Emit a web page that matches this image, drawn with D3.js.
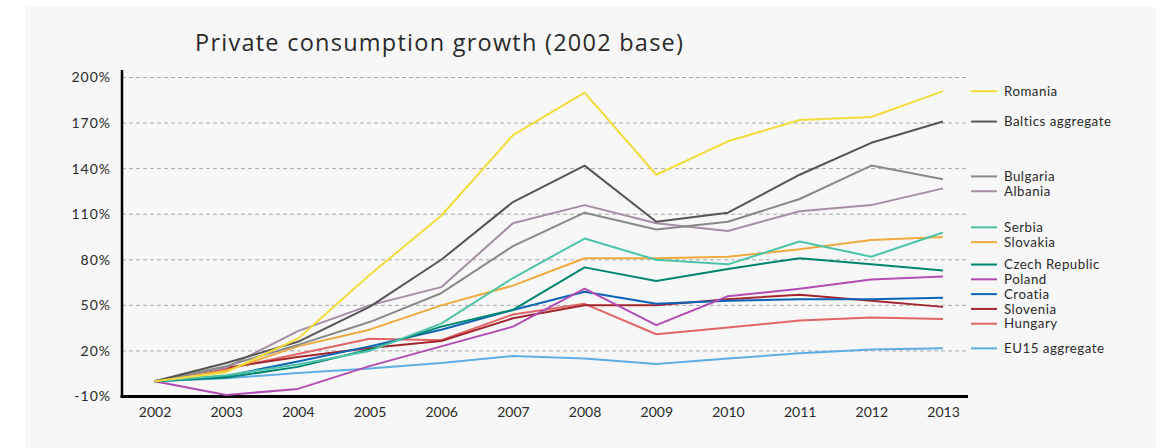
<!DOCTYPE html>
<html>
<head>
<meta charset="utf-8">
<script src="https://cdn.jsdelivr.net/npm/d3@7"></script>
<style>
  html, body { margin: 0; padding: 0; background: #ffffff; }
  svg { display: block; }
  text { font-family: Lato, "Noto Sans", sans-serif; fill: #2a2a2a; font-variant-ligatures: none; }
</style>
</head>
<body>
<svg id="chart" width="1171" height="448"></svg>
<script>
// Years on the x axis
const years = [2002, 2003, 2004, 2005, 2006, 2007, 2008, 2009, 2010, 2011, 2012, 2013];

// Cumulative private consumption growth since 2002, in percent
const romania  = [0, 6, 28, 70, 109, 162, 190, 136, 158, 172, 174, 191];
const baltics  = [0, 12, 26, 49, 80, 118, 142, 105, 111, 136, 157, 171];
const bulgaria = [0, 10, 24, 39, 58, 89, 111, 100, 105, 120, 142, 133];
const albania  = [0, 9, 33, 50, 62, 104, 116, 104, 99, 112, 116, 127];
const serbia   = [0, 4, 11, 20, 38, 68, 94, 80, 77, 92, 82, 98];
const slovakia = [0, 7, 23, 34, 50, 63, 81, 81, 82, 87, 93, 95];
const czech    = [0, 2.5, 9.5, 21, 36, 47, 75, 66, 74, 81, 77, 73];
const poland   = [0, -9, -5, 10, 23, 36, 61, 37, 56, 61, 67, 69];
const croatia  = [0, 3.5, 13, 23, 34, 47, 59, 51, 53, 54, 54, 55];
const slovenia = [0, 9, 16, 22, 26.5, 41.5, 50, 50, 54, 57, 53, 49];
const hungary  = [0, 8, 18, 28, 27, 44, 51, 31, 35.5, 40, 42, 41];
const eu15     = [0, 2, 5.5, 8.5, 12, 16.7, 15, 11.4, 15, 18.4, 21, 21.7];

const seriesNames = ["Romania", "Baltics aggregate", "Bulgaria", "Albania", "Serbia", "Slovakia",
  "Czech Republic", "Poland", "Croatia", "Slovenia", "Hungary", "EU15 aggregate"];
const seriesValues = [romania, baltics, bulgaria, albania, serbia, slovakia,
  czech, poland, croatia, slovenia, hungary, eu15];
const seriesColors = ["#f2dc3a", "#555555", "#898989", "#a38ea3", "#4dc4a9", "#f0a93c",
  "#00866f", "#b24db4", "#0b64b6", "#a3262f", "#e26565", "#5caee4"];

// Y axis tick values and their labels
const yTicks = [-10, 20, 50, 80, 110, 140, 170, 200];
const yTickLabels = ["-10%", "20%", "50%", "80%", "110%", "140%", "170%", "200%"];

const titleText = "Private consumption growth (2002 base)";

const svg = d3.select("#chart");

// Light panel behind the chart
svg.append("rect")
  .attr("x", 25).attr("y", 7)
  .attr("width", 1131).attr("height", 441)
  .attr("fill", "#f7f7f7");

const plot = { left: 122, right: 968, top: 77.5, bottom: 396.5 };

const x = d3.scalePoint()
  .domain(years)
  .range([154.5, 943]);

const y = d3.scaleLinear()
  .domain([-10, 200])
  .range([plot.bottom, plot.top]);

// Title
svg.append("text")
  .attr("x", 195).attr("y", 51)
  .attr("font-size", 23.5)
  .attr("fill", "#222")
  .style("font-family", "'Open Sans', Lato, sans-serif")
  .attr("textLength", 488)
  .attr("lengthAdjust", "spacing")
  .text(titleText);

// Dashed horizontal gridlines
svg.append("g")
  .selectAll("line")
  .data(yTicks.filter(d => d > -10))
  .join("line")
  .attr("x1", plot.left).attr("x2", plot.right)
  .attr("y1", d => y(d)).attr("y2", d => y(d))
  .attr("stroke", "#a8a8a8")
  .attr("stroke-width", 1)
  .attr("stroke-dasharray", "4,3");

// Y axis
const yAxis = d3.axisLeft(y)
  .tickValues(yTicks)
  .tickFormat((d, i) => yTickLabels[i])
  .tickSize(0)
  .tickPadding(11);
const gy = svg.append("g")
  .attr("transform", `translate(${plot.left},0)`)
  .call(yAxis);
gy.select(".domain").remove();
gy.selectAll("text")
  .attr("font-size", 14)
  .attr("fill", "#2a2a2a")
  .style("letter-spacing", "1px")
  .style("font-family", "Lato, 'Noto Sans', sans-serif");

// X axis labels
const xAxis = d3.axisBottom(x)
  .tickSize(0)
  .tickPadding(11);
const gx = svg.append("g")
  .attr("transform", `translate(0,${plot.bottom})`)
  .call(xAxis);
gx.select(".domain").remove();
gx.selectAll("text")
  .attr("font-size", 14)
  .attr("fill", "#2a2a2a")
  .style("font-family", "Lato, 'Noto Sans', sans-serif");

// Axis lines
svg.append("line")
  .attr("x1", plot.left).attr("x2", plot.left)
  .attr("y1", 70).attr("y2", plot.bottom)
  .attr("stroke", "#000").attr("stroke-width", 2.5);
svg.append("line")
  .attr("x1", plot.left - 1.5).attr("x2", plot.right)
  .attr("y1", plot.bottom).attr("y2", plot.bottom)
  .attr("stroke", "#000").attr("stroke-width", 3);

// Series lines
const line = d3.line()
  .x((d, i) => x(years[i]))
  .y(d => y(d));

const series = seriesNames.map((name, i) => ({
  name, values: seriesValues[i], color: seriesColors[i]
}));

svg.append("g")
  .selectAll("path")
  .data(series.slice().reverse())
  .join("path")
  .attr("d", d => line(d.values))
  .attr("fill", "none")
  .attr("stroke", d => d.color)
  .attr("stroke-width", 2)
  .attr("stroke-linejoin", "round");

// Legend entries sit beside each line's last value, spread so labels don't collide
const gap = 14.8;
const labels = series.map(s => ({ ...s, ly: y(s.values[s.values.length - 1]) }))
  .sort((a, b) => a.ly - b.ly);
for (let iter = 0; iter < 200; iter++) {
  let moved = false;
  for (let i = 1; i < labels.length; i++) {
    const d = labels[i].ly - labels[i - 1].ly;
    if (d < gap) {
      const shift = (gap - d) / 2;
      labels[i - 1].ly -= shift;
      labels[i].ly += shift;
      moved = true;
    }
  }
  if (!moved) break;
}

const legend = svg.append("g")
  .selectAll("g")
  .data(labels)
  .join("g")
  .attr("transform", d => `translate(971,${d.ly})`);
legend.append("line")
  .attr("x1", 0).attr("x2", 26)
  .attr("stroke", d => d.color)
  .attr("stroke-width", 2);
legend.append("text")
  .attr("x", 33)
  .attr("dy", "0.35em")
  .attr("font-size", 13.3)
  .style("letter-spacing", "0.5px")
  .attr("fill", "#2a2a2a")
  .text(d => d.name);
</script>
</body>
</html>
